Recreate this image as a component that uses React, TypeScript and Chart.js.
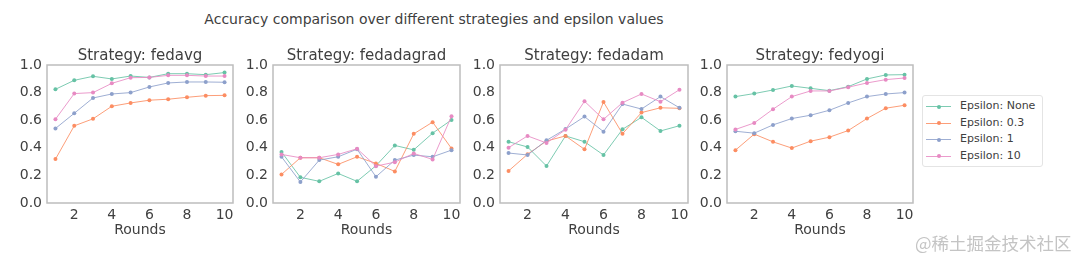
import React, { useEffect, useRef } from "react";
import { Chart, registerables } from "chart.js";

Chart.register(...registerables);

const rounds = [1, 2, 3, 4, 5, 6, 7, 8, 9, 10];
const xTickValues = [2, 4, 6, 8, 10];
const yTickValues = [0, 0.2, 0.4, 0.6, 0.8, 1.0];
const seriesLabels = ["Epsilon: None", "Epsilon: 0.3", "Epsilon: 1", "Epsilon: 10"];
const seriesColors = ["#66c2a5", "#fc8d62", "#8da0cb", "#e78ac3"];
const strategies = ["fedavg", "fedadagrad", "fedadam", "fedyogi"];
const mainTitle = "Accuracy comparison over different strategies and epsilon values";
const xAxisTitle = "Rounds";
const watermark = "@稀土掘金技术社区";

// fedavg
const fedavgNone = [0.824, 0.889, 0.918, 0.899, 0.92, 0.91, 0.937, 0.937, 0.93, 0.945];
const fedavg03 = [0.318, 0.559, 0.61, 0.701, 0.725, 0.745, 0.752, 0.766, 0.778, 0.78];
const fedavg1 = [0.54, 0.65, 0.761, 0.79, 0.8, 0.841, 0.87, 0.877, 0.877, 0.875];
const fedavg10 = [0.607, 0.793, 0.8, 0.867, 0.908, 0.91, 0.925, 0.925, 0.92, 0.92];

// fedadagrad
const fedadagradNone = [0.37, 0.186, 0.157, 0.214, 0.157, 0.27, 0.417, 0.385, 0.506, 0.602];
const fedadagrad03 = [0.207, 0.328, 0.328, 0.28, 0.335, 0.287, 0.229, 0.501, 0.586, 0.395];
const fedadagrad1 = [0.335, 0.152, 0.311, 0.335, 0.39, 0.19, 0.311, 0.347, 0.335, 0.383];
const fedadagrad10 = [0.352, 0.328, 0.328, 0.352, 0.393, 0.267, 0.296, 0.359, 0.316, 0.629];

// fedadam
const fedadamNone = [0.444, 0.406, 0.268, 0.486, 0.444, 0.348, 0.534, 0.621, 0.522, 0.56];
const fedadam03 = [0.232, 0.353, 0.449, 0.486, 0.389, 0.732, 0.502, 0.655, 0.69, 0.686];
const fedadam1 = [0.362, 0.348, 0.454, 0.536, 0.626, 0.517, 0.717, 0.681, 0.771, 0.69];
const fedadam10 = [0.401, 0.486, 0.435, 0.531, 0.737, 0.606, 0.727, 0.79, 0.734, 0.821];

// fedyogi
const fedyogiNone = [0.771, 0.793, 0.819, 0.848, 0.831, 0.814, 0.843, 0.899, 0.928, 0.93];
const fedyogi03 = [0.383, 0.499, 0.443, 0.398, 0.448, 0.477, 0.525, 0.612, 0.687, 0.708];
const fedyogi1 = [0.52, 0.506, 0.566, 0.612, 0.636, 0.672, 0.725, 0.771, 0.79, 0.8];
const fedyogi10 = [0.533, 0.58, 0.68, 0.771, 0.812, 0.812, 0.839, 0.87, 0.894, 0.906];

const strategyData = [
  [fedavgNone, fedavg03, fedavg1, fedavg10],
  [fedadagradNone, fedadagrad03, fedadagrad1, fedadagrad10],
  [fedadamNone, fedadam03, fedadam1, fedadam10],
  [fedyogiNone, fedyogi03, fedyogi1, fedyogi10],
];

const FONT = "'DejaVu Sans', sans-serif";
const TEXT = "#404040";

// layout (page px)
const areaLefts = [47, 273, 500, 727];
const areaRights = [233, 460, 688, 913];
const CANVAS_TOP = 40;
const CANVAS_H = 220;
const Y_AXIS_W = 47;
const RIGHT_PAD = 7;
const TOP_PAD = 25;
const X_AXIS_H = 57;

function hexA(hex: string, a: number) {
  const r = parseInt(hex.slice(1, 3), 16);
  const g = parseInt(hex.slice(3, 5), 16);
  const b = parseInt(hex.slice(5, 7), 16);
  return `rgba(${r},${g},${b},${a})`;
}

function SubPlot({ index }: { index: number }) {
  const ref = useRef<HTMLCanvasElement>(null);
  const width = areaRights[index] - areaLefts[index] + Y_AXIS_W + RIGHT_PAD;
  useEffect(() => {
    if (!ref.current) return;
    const title = "Strategy: " + strategies[index];
    const framePlugin = {
      id: "frameAndTitle",
      afterDraw(chart: any) {
        const { ctx, chartArea } = chart;
        ctx.save();
        ctx.strokeStyle = "#bdbdbd";
        ctx.lineWidth = 1.5;
        ctx.strokeRect(chartArea.left, chartArea.top, chartArea.right - chartArea.left, chartArea.bottom - chartArea.top);
        ctx.fillStyle = TEXT;
        ctx.font = `15px ${FONT}`;
        ctx.textAlign = "center";
        ctx.textBaseline = "alphabetic";
        ctx.fillText(title, (chartArea.left + chartArea.right) / 2, chartArea.top - 5);
        ctx.restore();
      },
    };
    const datasets = strategyData[index].map((vals, i) => ({
      label: seriesLabels[i],
      data: rounds.map((r, k) => ({ x: r, y: vals[k] })),
      borderColor: hexA(seriesColors[i], 0.85),
      backgroundColor: seriesColors[i],
      borderWidth: 1,
      pointRadius: 2,
      pointBorderWidth: 0,
      pointBackgroundColor: seriesColors[i],
      tension: 0,
      order: 3 - i,
    }));
    const chart = new Chart(ref.current, {
      type: "line",
      data: { datasets },
      plugins: [framePlugin],
      options: {
        animation: false,
        responsive: false,
        devicePixelRatio: 1,
        layout: { padding: { top: TOP_PAD, right: RIGHT_PAD, bottom: 0, left: 0 } },
        plugins: { legend: { display: false }, tooltip: { enabled: false }, title: { display: false } },
        scales: {
          x: {
            type: "linear",
            min: 0.55,
            max: 10.45,
            grid: { display: false, drawTicks: false },
            border: { display: false },
            afterBuildTicks: (s: any) => {
              s.ticks = xTickValues.map((v) => ({ value: v }));
            },
            afterFit: (s: any) => {
              s.height = X_AXIS_H;
            },
            ticks: {
              color: TEXT,
              font: { family: FONT, size: 14 },
              padding: 4,
              maxRotation: 0,
              autoSkip: false,
              callback: (v: any) => String(v),
            },
            title: {
              display: true,
              text: xAxisTitle,
              color: TEXT,
              font: { family: FONT, size: 14 },
              padding: { top: 0, bottom: 21 },
            },
          },
          y: {
            type: "linear",
            min: 0,
            max: 1,
            grid: { display: false, drawTicks: false },
            border: { display: false },
            afterBuildTicks: (s: any) => {
              s.ticks = yTickValues.map((v) => ({ value: v }));
            },
            afterFit: (s: any) => {
              s.width = Y_AXIS_W;
            },
            ticks: {
              color: TEXT,
              font: { family: FONT, size: 14 },
              padding: 5,
              autoSkip: false,
              callback: (v: any) => Number(v).toFixed(1),
            },
          },
        },
      },
    } as any);
    return () => chart.destroy();
  }, [index]);
  return (
    <canvas
      ref={ref}
      width={width}
      height={CANVAS_H}
      style={{
        position: "absolute",
        left: areaLefts[index] - Y_AXIS_W,
        top: CANVAS_TOP,
        width,
        height: CANVAS_H,
      }}
    />
  );
}

function Legend() {
  return (
    <div
      style={{
        position: "absolute",
        left: 922,
        top: 95,
        width: 121,
        height: 72,
        border: "1px solid #e4e4e4",
        borderRadius: 3,
        background: "#fff",
        boxSizing: "border-box",
        paddingTop: 2,
      }}
    >
      {seriesLabels.map((label, i) => (
        <div key={label} style={{ position: "relative", height: 16.5 }}>
          <div style={{ position: "absolute", left: 3, top: 8, width: 25, height: 1, background: hexA(seriesColors[i], 0.85) }} />
          <div style={{ position: "absolute", left: 13.5, top: 6.5, width: 4, height: 4, borderRadius: 2, background: seriesColors[i] }} />
          <span style={{ position: "absolute", left: 37, top: 0, fontFamily: FONT, fontSize: 11, color: TEXT, lineHeight: "16.5px", whiteSpace: "nowrap" }}>
            {label}
          </span>
        </div>
      ))}
    </div>
  );
}

export default function App() {
  return (
    <div style={{ position: "absolute", left: 0, top: 0, width: 1080, height: 260, background: "#fff", overflow: "hidden" }}>
      <div
        style={{
          position: "absolute",
          left: 434,
          top: 9,
          transform: "translateX(-50%)",
          whiteSpace: "nowrap",
          fontFamily: FONT,
          fontSize: 14,
          color: TEXT,
          lineHeight: "20px",
        }}
      >
        {mainTitle}
      </div>
      {strategies.map((s, i) => (
        <SubPlot key={s} index={i} />
      ))}
      <Legend />
      <div
        style={{
          position: "absolute",
          left: 915,
          top: 232,
          fontFamily: "'Noto Sans CJK SC', sans-serif",
          fontSize: 17.5,
          color: "#c4c4c4",
          lineHeight: "22px",
          whiteSpace: "nowrap",
        }}
      >
        {watermark}
      </div>
    </div>
  );
}
